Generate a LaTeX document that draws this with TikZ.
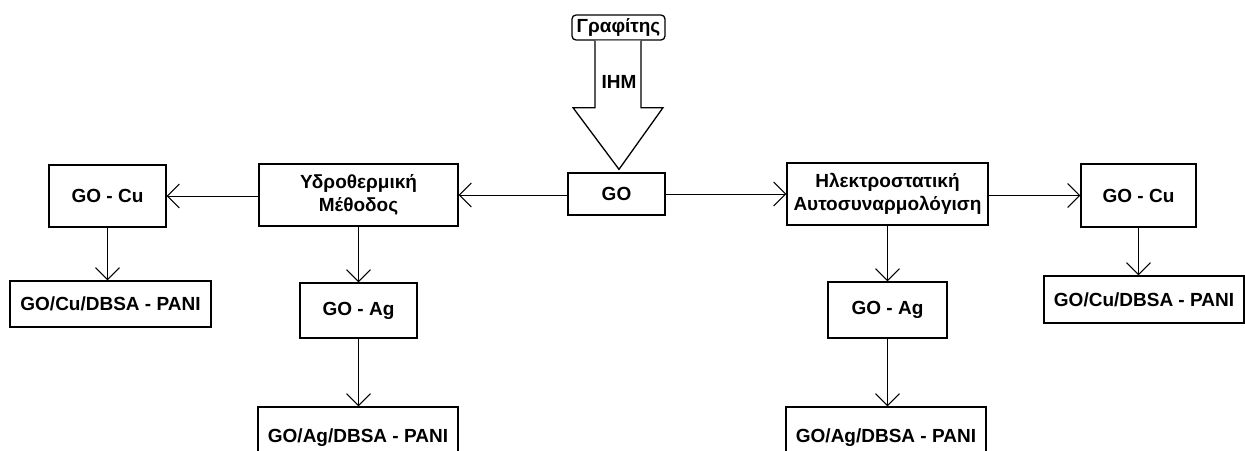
\documentclass[tikz,border=0pt]{standalone}
\usepackage{fontspec}
\setmainfont{Liberation Sans}
\usetikzlibrary{arrows.meta,calc}
\begin{document}
\begin{tikzpicture}[x=1pt,y=-1pt,
  box/.style={draw,line width=1.3pt,inner sep=0pt,align=center,font=\fontsize{19}{23.5}\selectfont\bfseries},
  arr/.style={line width=1pt,-{Straight Barb[length=12pt,width=24pt,line width=1pt]}},
  bigarrow/.style={draw,line width=1.3pt,fill=white}]
\useasboundingbox (0,0) rectangle (1245,450);
\clip (0,0) rectangle (1245,450);
\node[box,rounded corners=4pt,minimum width=93pt,minimum height=25pt] (graf) at (618.5,27.5) {Γραφίτης};
\node[box,minimum width=97pt,minimum height=42pt] (go) at (616.5,194) {GO};
\node[box,minimum width=199pt,minimum height=62pt] (hydro) at (358.5,195) {Υδροθερμική\\Μέθοδος};
\node[box,minimum width=201pt,minimum height=62pt] (elec) at (887.5,194) {Ηλεκτροστατική\\Αυτοσυναρμολόγιση};
\node[box,minimum width=117pt,minimum height=62pt] (cuL) at (107.5,196) {GO - Cu};
\node[box,minimum width=115pt,minimum height=63pt] (cuR) at (1138.5,195.5) {GO - Cu};
\node[box,minimum width=201pt,minimum height=46pt] (pcuL) at (110.5,304) {GO/Cu/DBSA - PANI};
\node[box,minimum width=200pt,minimum height=47pt] (pcuR) at (1144,299.5) {GO/Cu/DBSA - PANI};
\node[box,minimum width=117pt,minimum height=55pt] (agL) at (358.5,310.5) {GO - Ag};
\node[box,minimum width=119pt,minimum height=56pt] (agR) at (887.5,310) {GO - Ag};
\node[box,minimum width=200pt,minimum height=62pt] (pagL) at (358,438) {GO/Ag/DBSA - PANI};
\node[box,minimum width=200pt,minimum height=62pt] (pagR) at (886,438) {GO/Ag/DBSA - PANI};
% big hollow arrow from graphite to GO
\draw[bigarrow] ($(graf.south)+(-23.5,0)$) -- ++(0,67) -- ++(-22,0) -- ($(go.north)+(2.5,-3)$)
  -- ($(graf.south)+(44.5,67)$) -- ++(-22,0) -- ($(graf.south)+(22.5,0)$);
\node[font=\fontsize{19}{20}\selectfont\bfseries] (ihm) at (619,82) {IHM};
% connectors
\draw[arr] (go.west |- hydro.east) -- (hydro.east);
\draw[arr] (hydro.west |- cuL.east) -- (cuL.east);
\draw[arr] (go.east) -- (go.east -| elec.west);
\draw[arr] (elec.east |- cuR.west) -- (cuR.west);
\draw[arr] (cuL.south) -- (cuL.south |- pcuL.north);
\draw[arr] (hydro.south) -- (hydro.south |- agL.north);
\draw[arr] (agL.south) -- (agL.south |- pagL.north);
\draw[arr] (cuR.south) -- (cuR.south |- pcuR.north);
\draw[arr] (elec.south) -- (elec.south |- agR.north);
\draw[arr] (agR.south) -- (agR.south |- pagR.north);
\end{tikzpicture}
\end{document}
